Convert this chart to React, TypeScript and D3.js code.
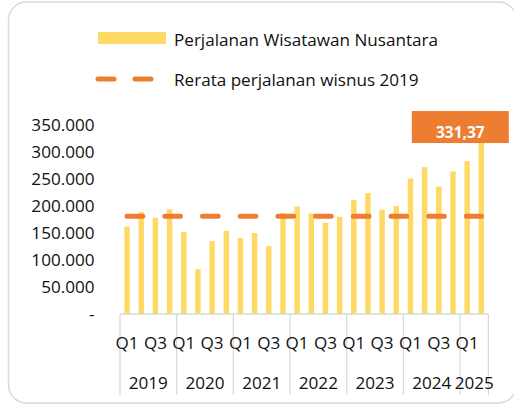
import React from "react";
import * as d3 from "d3";

const years = ["2019", "2020", "2021", "2022", "2023", "2024", "2025"];
const quarters = ["Q1", "Q2", "Q3", "Q4"];
const categories: string[] = [];
years.forEach((yr) => {
  const qs = yr === "2025" ? ["Q1", "Q2"] : quarters;
  qs.forEach((q) => categories.push(`${yr}-${q}`));
});
// Perjalanan wisatawan nusantara (ribu perjalanan)
const values = [
  162, 189, 178, 194,
  152, 83, 135, 154,
  141, 150, 126, 187,
  199, 186, 169, 180,
  211, 224, 193, 200,
  251, 272, 236, 264,
  283, 331.37,
].map((v) => v * 1000);
const avg2019 = 181000;
const yTicks = [0, 50000, 100000, 150000, 200000, 250000, 300000, 350000];
const lastLabel = "331,37";
const legendBar = "Perjalanan Wisatawan Nusantara";
const legendLine = "Rerata perjalanan wisnus 2019";

const W = 514;
const H = 405;
const FONT = "'Open Sans', 'DejaVu Sans', sans-serif";
const FS = 17.1;
const TEXT = "#111";
const BAR = "#FFD966";
const ORANGE = "#ED7D31";
const GRID = "#d9d9d9";

const loc = d3.formatLocale({ decimal: ",", thousands: ".", grouping: [3], currency: ["", ""] });
const fmt = loc.format(",.0f");

export default function App() {
  const x = d3
    .scaleBand<string>()
    .domain(categories)
    .range([120, 488.4])
    .paddingInner(0.615)
    .paddingOuter(0.3075);
  const y = d3.scaleLinear().domain([0, 350000]).range([314, 125]);
  const step = x.step();
  const bw = x.bandwidth();
  const cx = (c: string) => (x(c) as number) + bw / 2;

  const line = d3
    .line<string>()
    .x((c) => cx(c))
    .y(() => y(avg2019));

  const groups = years.map((yr) => {
    const cats = categories.filter((c) => c.startsWith(yr));
    const start = (x(cats[0]) as number) - (step - bw) / 2;
    const end = start + cats.length * step;
    return { yr, start, end, cats };
  });

  const last = categories[categories.length - 1];
  const lastVal = values[values.length - 1];
  const boxW = 97;
  const boxH = 32;
  const boxCx = cx(last) - 21;
  const boxY = y(lastVal) - 24;

  return (
    <svg
      width={W}
      height={H}
      style={{ position: "absolute", left: 0, top: 0, fontFamily: FONT }}
    >
      <rect x={0} y={0} width={W} height={H} fill="#fff" />
      <rect x={8.5} y={2} width={508} height={401} rx={18} fill="#fff" stroke={GRID} strokeWidth={1.5} />

      {/* Legend */}
      <rect x={98} y={32} width={68} height={12} fill={BAR} />
      <text x={174} y={45.5} fontSize={FS} fill={TEXT}>{legendBar}</text>
      <line x1={98} x2={154} y1={79} y2={79} stroke={ORANGE} strokeWidth={5} strokeLinecap="round" strokeDasharray="16 21" />
      <text x={174} y={85.5} fontSize={FS} fill={TEXT}>{legendLine}</text>

      {/* Y axis labels */}
      {yTicks.map((t) => (
        <text key={t} x={94.5} y={y(t) + 6} textAnchor="end" fontSize={FS} fill={TEXT}>
          {t === 0 ? "-" : fmt(t)}
        </text>
      ))}

      {/* Bars */}
      {categories.map((c, i) => (
        <rect key={c} x={x(c)} y={y(values[i])} width={bw} height={y(0) - y(values[i])} fill={BAR} />
      ))}

      {/* Avg line */}
      <path
        d={line(categories) || ""}
        fill="none"
        stroke={ORANGE}
        strokeWidth={5}
        strokeLinecap="round"
        strokeDasharray="15.7 22"
      />

      {/* X axis */}
      <line x1={groups[0].start} x2={groups[groups.length - 1].end} y1={y(0)} y2={y(0)} stroke={GRID} strokeWidth={1.5} />
      {groups.map((g) => (
        <line key={"s" + g.yr} x1={g.start} x2={g.start} y1={y(0)} y2={395} stroke={GRID} strokeWidth={1.2} />
      ))}
      <line
        x1={groups[groups.length - 1].end}
        x2={groups[groups.length - 1].end}
        y1={y(0)}
        y2={395}
        stroke={GRID}
        strokeWidth={1.2}
      />
      {categories.map((c) => {
        const q = c.split("-")[1];
        if (q !== "Q1" && q !== "Q3") return null;
        return (
          <text key={"q" + c} x={cx(c)} y={348.5} textAnchor="middle" fontSize={FS} fill={TEXT}>
            {q}
          </text>
        );
      })}
      {groups.map((g) => (
        <text key={"y" + g.yr} x={(g.start + g.end) / 2} y={388.5} textAnchor="middle" fontSize={FS} fill={TEXT}>
          {g.yr}
        </text>
      ))}

      {/* Data label */}
      <rect x={boxCx - boxW / 2} y={boxY} width={boxW} height={boxH} fill={ORANGE} />
      <text x={boxCx} y={boxY + 27} textAnchor="middle" fontSize={15.5} fontWeight="bold" fill="#fff">
        {lastLabel}
      </text>
    </svg>
  );
}
